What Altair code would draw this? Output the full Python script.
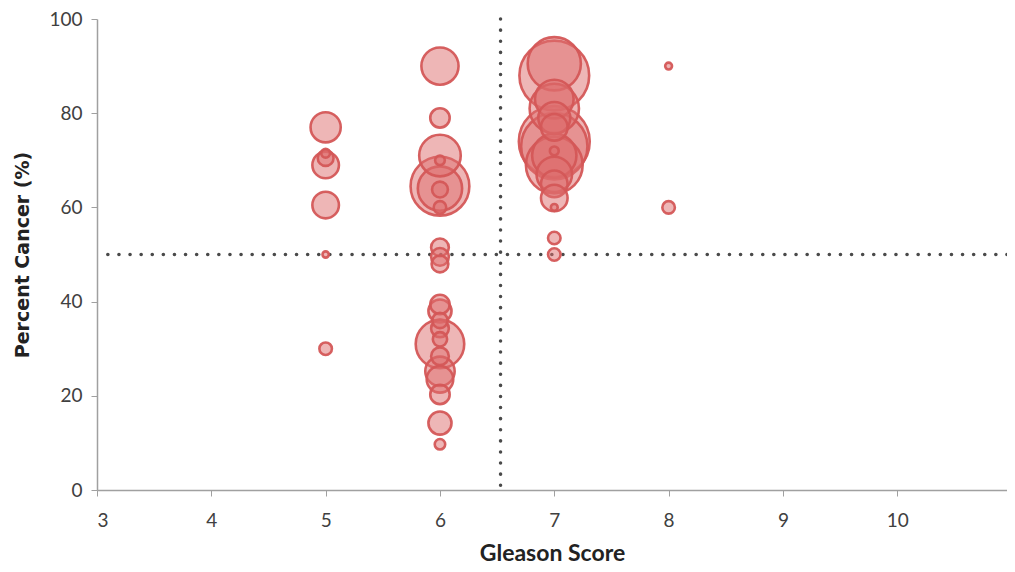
import altair as alt
import pandas as pd

# Gleason score, percent cancer, bubble magnitude (relative area)
gleason = [5, 5, 5, 5, 5, 5, 5,
           6, 6, 6, 6, 6, 6, 6, 6, 6, 6, 6,
           6, 6, 6, 6, 6, 6, 6, 6, 6, 6, 6, 6,
           7, 7, 7, 7, 7, 7, 7, 7, 7, 7, 7, 7, 7, 7, 7, 7, 7,
           8, 8]
percent = [77, 69, 70.5, 71.5, 60.5, 50, 30,
           90, 79, 71, 70, 64.5, 64, 63.8, 60, 51.5, 49.5, 48,
           39.4, 38, 34.3, 31, 32, 28.4, 25.2, 23.5, 20.3, 14.2, 9.7, 36,
           88, 90.5, 83, 81, 79, 77, 74, 73, 71, 69, 67, 65, 62, 72, 60, 53.5, 50,
           90, 60]
magnitude = [11.6, 9.0, 3.2, 1.0, 9.0, 0.5, 2.0,
             17.6, 4.8, 22.0, 1.2, 44.0, 25.0, 3.2, 2.0, 4.0, 4.0, 3.6,
             4.8, 6.8, 4.0, 30.0, 2.6, 4.0, 11.0, 9.0, 4.8, 6.8, 1.4, 3.0,
             62.0, 36.0, 19.0, 31.0, 13.0, 9.0, 64.0, 56.0, 25.0, 41.0, 16.0, 9.0, 9.0, 1.0, 0.6, 2.0, 2.0,
             0.6, 2.0]

x_ticks = [3, 4, 5, 6, 7, 8, 9, 10]
y_ticks = [0, 20, 40, 60, 80, 100]
cut_gleason = [6.53]
cut_percent = [50]

df = pd.DataFrame({"gleason": gleason, "percent": percent, "magnitude": magnitude})

FONT = "Lato"

xscale = alt.Scale(domain=[3, 10.96], nice=False)
yscale = alt.Scale(domain=[0, 100], nice=False)

bubbles = alt.Chart(df).mark_circle(
    fill="#dd6e6e", fillOpacity=0.5, stroke="#d45757", strokeWidth=2.6, strokeOpacity=0.95
).encode(
    x=alt.X("gleason:Q", scale=xscale,
            axis=alt.Axis(values=x_ticks, format="d", title="Gleason Score", grid=False,
                          domainColor="#a0a0a0", domainWidth=1.5, tickColor="#a0a0a0", tickSize=6,
                          labelFontSize=19, labelColor="#404040", labelPadding=15,
                          labelFont=FONT, titleFont=FONT, titleFontSize=23,
                          titleFontWeight="bold", titleColor="#222222", titlePadding=12)),
    y=alt.Y("percent:Q", scale=yscale,
            axis=alt.Axis(values=y_ticks, format="d", title="Percent Cancer (%)", grid=False,
                          domainColor="#a0a0a0", domainWidth=1.5, tickColor="#a0a0a0", tickSize=6,
                          labelFontSize=19, labelColor="#404040", labelPadding=9,
                          labelFont=FONT, titleFont="DejaVu Sans", titleFontSize=19,
                          titleFontWeight="bold", titleColor="#222222", titlePadding=16)),
    size=alt.Size("magnitude:Q", scale=alt.Scale(type="linear", domain=[0, 100], range=[0, 7854], zero=True),
                  legend=None),
    order=alt.Order("magnitude:Q", sort="descending"),
)

dot_style = dict(color="#4a4a4a", strokeWidth=3.5, strokeDash=[0.1, 11], strokeCap="round")

vline = alt.Chart(pd.DataFrame({"g": cut_gleason})).mark_rule(**dot_style).encode(
    x=alt.X("g:Q", scale=xscale))

hline = alt.Chart(pd.DataFrame({"p": cut_percent})).mark_rule(**dot_style).encode(
    y=alt.Y("p:Q", scale=yscale))

chart = alt.layer(hline, vline, bubbles).properties(
    width=910, height=471,
    autosize=alt.AutoSizeParams(type="none"),
    padding={"left": 89, "top": 11, "right": 0, "bottom": 74},
).configure_view(stroke=None)

chart.save("out.html", embed_options={"renderer": "svg", "actions": False})
